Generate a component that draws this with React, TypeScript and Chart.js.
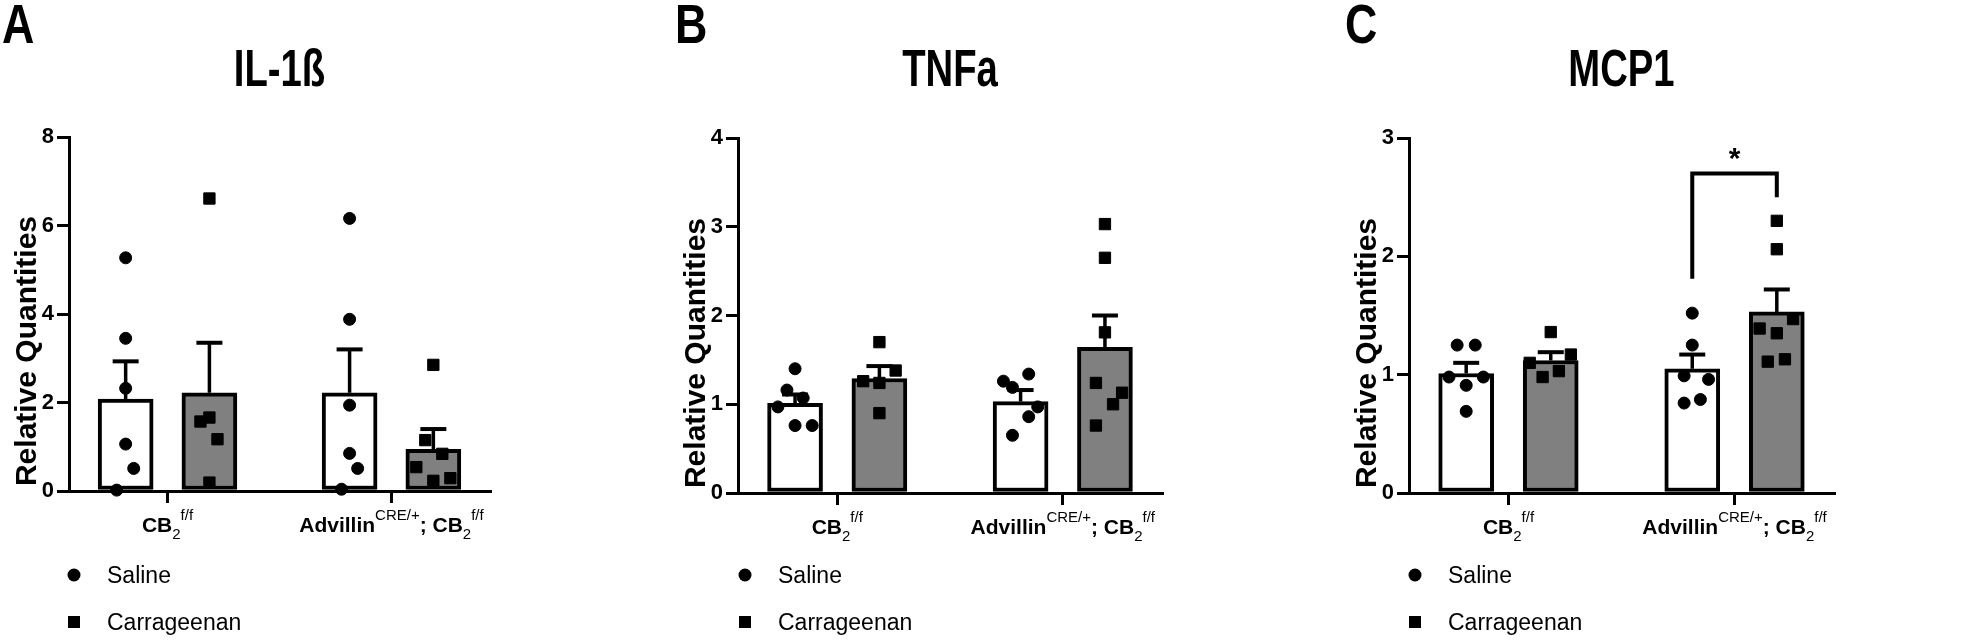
import React, { useEffect, useRef } from 'react';
import { Chart, registerables } from 'chart.js';

Chart.register(...registerables);

const FONT = "'Liberation Sans', Arial, Helvetica, sans-serif";

// ---------- shared categories / legend ----------
const groupPositions = [1, 2];
type Seg = [string, 'b' | 'sub' | 'sup'];
const categoryLabels: Seg[][] = [
  [['CB', 'b'], ['2', 'sub'], ['f/f', 'sup']],
  [['Advillin', 'b'], ['CRE/+', 'sup'], ['; CB', 'b'], ['2', 'sub'], ['f/f', 'sup']],
];
const seriesNames = ['Saline', 'Carrageenan'];
const panelLetters = ['A', 'B', 'C'];
const yAxisTitle = 'Relative Quantities';

// ---------- IL-1ß ----------
const il1bTitle = 'IL-1ß';
const il1bTicks = [0, 2, 4, 6, 8];
const il1bSalineMean = [2.08, 2.22];
const il1bSalineSem = [0.85, 0.98];
const il1bCarrMean = [2.22, 0.94];
const il1bCarrSem = [1.13, 0.46];
const il1bSalinePts = [
  [5.27, 3.45, 2.32, 1.06, 0.51, 0.02],
  [6.16, 3.88, 1.94, 0.85, 0.51, 0.04],
];
const il1bSalineJit = [
  [0, 0, 0, 0, 0.036, -0.04],
  [0, 0, 0, 0, 0.036, -0.036],
];
const il1bCarrPts = [
  [6.61, 1.57, 1.66, 1.17, 0.19],
  [2.85, 1.15, 0.84, 0.54, 0.23, 0.29],
];
const il1bCarrJit = [
  [0, -0.04, 0, 0.036, 0],
  [0, -0.036, 0.04, -0.076, 0, 0.076],
];

// ---------- TNFa ----------
const tnfTitle = 'TNFa';
const tnfTicks = [0, 1, 2, 3, 4];
const tnfSalineMean = [1.01, 1.03];
const tnfSalineSem = [0.1, 0.13];
const tnfCarrMean = [1.29, 1.64];
const tnfCarrSem = [0.14, 0.36];
const tnfSalinePts = [
  [1.4, 1.16, 1.07, 0.97, 0.76, 0.76],
  [1.26, 1.34, 1.19, 0.97, 0.86, 0.65],
];
const tnfSalineJit = [
  [0, -0.036, 0.036, -0.076, 0, 0.076],
  [-0.076, 0.036, -0.036, 0.076, 0.036, -0.036],
];
const tnfCarrPts = [
  [1.7, 1.26, 1.24, 1.38, 0.9],
  [3.03, 2.65, 1.81, 1.24, 1.13, 1.0, 0.76],
];
const tnfCarrJit = [
  [0, -0.072, 0, 0.072, 0],
  [0, 0, 0, -0.04, 0.076, 0.036, -0.04],
];

// ---------- MCP1 ----------
const mcpTitle = 'MCP1';
const mcpTicks = [0, 1, 2, 3];
const mcpSalineMean = [1.01, 1.05];
const mcpSalineSem = [0.09, 0.12];
const mcpCarrMean = [1.12, 1.53];
const mcpCarrSem = [0.07, 0.19];
const mcpSalinePts = [
  [1.25, 1.25, 0.98, 0.98, 0.91, 0.69],
  [1.52, 1.25, 0.99, 0.96, 0.76, 0.79],
];
const mcpSalineJit = [
  [-0.04, 0.04, -0.076, 0.076, 0, 0],
  [0, 0, -0.036, 0.072, -0.036, 0.036],
];
const mcpCarrPts = [
  [1.36, 1.1, 1.17, 0.98, 1.03],
  [2.3, 2.06, 1.47, 1.39, 1.35, 1.11, 1.13],
];
const mcpCarrJit = [
  [0, -0.093, 0.089, -0.036, 0.036],
  [0, 0, 0.072, -0.076, 0, -0.04, 0.036],
];
// significance bracket (group 2, saline vs carrageenan): top, left leg end, right leg end
const mcpBracket = [2.7, 1.81, 2.5];
const mcpStar = '*';

// ---------- panel layout ----------
interface PanelCfg {
  left: number; width: number;
  area: { l: number; t: number; r: number; b: number };
  letterX: number; yTitleX: number; legendX: number;
  letter: string; title: string; ticks: number[];
  sMean: number[]; sSem: number[]; cMean: number[]; cSem: number[];
  sPts: number[][]; sJit: number[][]; cPts: number[][]; cJit: number[][];
  bracket?: number[];
}

const BAR_OFF = 0.187;
const H = 640;

const panels: PanelCfg[] = [
  {
    left: 0, width: 656, area: { l: 69, t: 137, r: 490, b: 491 },
    letterX: 2, yTitleX: 36, legendX: 74, letter: panelLetters[0], title: il1bTitle, ticks: il1bTicks,
    sMean: il1bSalineMean, sSem: il1bSalineSem, cMean: il1bCarrMean, cSem: il1bCarrSem,
    sPts: il1bSalinePts, sJit: il1bSalineJit, cPts: il1bCarrPts, cJit: il1bCarrJit,
  },
  {
    left: 656, width: 656, area: { l: 82, t: 138, r: 506, b: 493 },
    letterX: 19, yTitleX: 49, legendX: 89, letter: panelLetters[1], title: tnfTitle, ticks: tnfTicks,
    sMean: tnfSalineMean, sSem: tnfSalineSem, cMean: tnfCarrMean, cSem: tnfCarrSem,
    sPts: tnfSalinePts, sJit: tnfSalineJit, cPts: tnfCarrPts, cJit: tnfCarrJit,
  },
  {
    left: 1312, width: 660, area: { l: 97, t: 138, r: 522, b: 493 },
    letterX: 33, yTitleX: 64, legendX: 103, letter: panelLetters[2], title: mcpTitle, ticks: mcpTicks,
    sMean: mcpSalineMean, sSem: mcpSalineSem, cMean: mcpCarrMean, cSem: mcpCarrSem,
    sPts: mcpSalinePts, sJit: mcpSalineJit, cPts: mcpCarrPts, cJit: mcpCarrJit,
    bracket: mcpBracket,
  },
];

function drawRich(ctx: CanvasRenderingContext2D, segs: Seg[], cx: number, base: number) {
  const fonts: Record<string, string> = {
    b: `bold 21px ${FONT}`,
    sub: `15px ${FONT}`,
    sup: `15px ${FONT}`,
  };
  const widths = segs.map(([t, k]) => {
    ctx.font = fonts[k];
    return ctx.measureText(t).width;
  });
  const total = widths.reduce((a, b) => a + b, 0);
  let x = cx - total / 2;
  ctx.textAlign = 'left';
  ctx.textBaseline = 'alphabetic';
  segs.forEach(([t, k], i) => {
    ctx.font = fonts[k];
    const dy = k === 'sub' ? 7 : k === 'sup' ? -12 : 0;
    ctx.fillText(t, x, base + dy);
    x += widths[i];
  });
}

function buildChart(canvas: HTMLCanvasElement, p: PanelCfg) {
  const barX: number[] = [];
  const barY: number[] = [];
  const barSem: number[] = [];
  const barColors: string[] = [];
  groupPositions.forEach((g, i) => {
    barX.push(g - BAR_OFF, g + BAR_OFF);
    barY.push(p.sMean[i], p.cMean[i]);
    barSem.push(p.sSem[i], p.cSem[i]);
    barColors.push('#ffffff', '#808080');
  });

  const salineData: { x: number; y: number }[] = [];
  const carrData: { x: number; y: number }[] = [];
  groupPositions.forEach((g, i) => {
    p.sPts[i].forEach((v, j) => salineData.push({ x: g - BAR_OFF + p.sJit[i][j], y: v }));
    p.cPts[i].forEach((v, j) => carrData.push({ x: g + BAR_OFF + p.cJit[i][j], y: v }));
  });

  const yMax = p.ticks[p.ticks.length - 1];

  const decor = {
    id: 'decor',
    afterDatasetDraw(chart: any, args: any) {
      if (args.index !== 0) return;
      const ctx: CanvasRenderingContext2D = chart.ctx;
      const xs = chart.scales.x;
      const ys = chart.scales.y;
      ctx.save();
      ctx.strokeStyle = '#000';
      ctx.lineCap = 'butt';
      barX.forEach((bx, i) => {
        const px = xs.getPixelForValue(bx);
        const y0 = ys.getPixelForValue(barY[i]);
        const y1 = ys.getPixelForValue(barY[i] + barSem[i]);
        ctx.lineWidth = 3.5;
        ctx.beginPath();
        ctx.moveTo(px, y0);
        ctx.lineTo(px, y1);
        ctx.stroke();
        ctx.lineWidth = 4;
        ctx.beginPath();
        ctx.moveTo(px - 13, y1);
        ctx.lineTo(px + 13, y1);
        ctx.stroke();
      });
      ctx.restore();
    },
    afterDraw(chart: any) {
      const ctx: CanvasRenderingContext2D = chart.ctx;
      const xs = chart.scales.x;
      const ys = chart.scales.y;
      const ca = chart.chartArea;
      ctx.save();
      ctx.fillStyle = '#000';
      ctx.strokeStyle = '#000';

      // panel letter
      ctx.save();
      ctx.translate(p.letterX, 43);
      ctx.scale(0.8, 1);
      ctx.font = `bold 56px ${FONT}`;
      ctx.textAlign = 'left';
      ctx.textBaseline = 'alphabetic';
      ctx.fillText(p.letter, 0, 0);
      ctx.restore();

      // title
      ctx.save();
      ctx.translate((ca.left + ca.right) / 2, 86);
      ctx.scale(0.75, 1);
      ctx.font = `bold 51px ${FONT}`;
      ctx.textAlign = 'center';
      ctx.textBaseline = 'alphabetic';
      ctx.fillText(p.title, 0, 0);
      ctx.restore();

      // y title
      ctx.save();
      ctx.translate(p.yTitleX, ca.bottom - 140);
      ctx.rotate(-Math.PI / 2);
      ctx.font = `bold 30px ${FONT}`;
      ctx.textAlign = 'center';
      ctx.textBaseline = 'alphabetic';
      ctx.fillText(yAxisTitle, 0, 0);
      ctx.restore();

      // x category labels
      groupPositions.forEach((g, i) => {
        drawRich(ctx, categoryLabels[i], xs.getPixelForValue(g), ca.bottom + 41);
      });

      // legend
      const rows = [575, 622];
      ctx.beginPath();
      ctx.arc(p.legendX, rows[0], 6.5, 0, Math.PI * 2);
      ctx.fill();
      ctx.fillRect(p.legendX - 6, rows[1] - 6, 12, 12);
      ctx.font = `23px ${FONT}`;
      ctx.textAlign = 'left';
      ctx.textBaseline = 'alphabetic';
      seriesNames.forEach((n, i) => ctx.fillText(n, p.legendX + 33, rows[i] + 8));

      // significance bracket
      if (p.bracket) {
        const xl = xs.getPixelForValue(groupPositions[1] - BAR_OFF);
        const xr = xs.getPixelForValue(groupPositions[1] + BAR_OFF);
        const yt = ys.getPixelForValue(p.bracket[0]);
        const yl = ys.getPixelForValue(p.bracket[1]);
        const yr = ys.getPixelForValue(p.bracket[2]);
        ctx.lineWidth = 4;
        ctx.lineJoin = 'miter';
        ctx.beginPath();
        ctx.moveTo(xl, yl);
        ctx.lineTo(xl, yt);
        ctx.lineTo(xr, yt);
        ctx.lineTo(xr, yr);
        ctx.stroke();
        ctx.font = `bold 30px ${FONT}`;
        ctx.textAlign = 'center';
        ctx.fillText(mcpStar, (xl + xr) / 2, yt - 6);
      }
      ctx.restore();
    },
  };

  return new Chart(canvas, {
    type: 'scatter',
    data: {
      datasets: [
        {
          type: 'bar',
          data: barX.map((x, i) => ({ x, y: barY[i] })),
          backgroundColor: barColors,
          borderColor: '#000',
          borderWidth: 4,
          borderSkipped: false,
          barThickness: 55,
          order: 10,
        } as any,
        {
          type: 'scatter',
          label: seriesNames[0],
          data: salineData,
          pointStyle: 'circle',
          pointRadius: 6,
          pointBorderWidth: 1,
          backgroundColor: '#000',
          borderColor: '#000',
          clip: false,
          order: 0,
        } as any,
        {
          type: 'scatter',
          label: seriesNames[1],
          data: carrData,
          pointStyle: 'rect',
          pointRadius: 8,
          pointBorderWidth: 1,
          backgroundColor: '#000',
          borderColor: '#000',
          clip: false,
          order: 0,
        } as any,
      ],
    },
    options: {
      responsive: false,
      animation: false,
      devicePixelRatio: 1,
      events: [],
      layout: {
        padding: { left: 0, top: p.area.t, right: p.width - p.area.r, bottom: 0 },
      },
      plugins: {
        legend: { display: false },
        tooltip: { enabled: false },
        title: { display: false },
      },
      scales: {
        x: {
          type: 'linear',
          min: 0.56,
          max: 2.44,
          offset: false,
          afterBuildTicks: (s: any) => {
            s.ticks = groupPositions.map((v) => ({ value: v }));
          },
          afterFit: (s: any) => {
            s.height = H - p.area.b;
          },
          ticks: { display: false },
          grid: {
            display: true,
            offset: false,
            drawOnChartArea: false,
            drawTicks: true,
            tickLength: 12,
            lineWidth: 3,
            color: '#000',
          },
          border: { display: true, width: 3, color: '#000' },
        },
        y: {
          type: 'linear',
          min: 0,
          max: yMax,
          afterBuildTicks: (s: any) => {
            s.ticks = p.ticks.map((v) => ({ value: v }));
          },
          afterFit: (s: any) => {
            s.width = p.area.l;
          },
          ticks: {
            color: '#000',
            padding: 3,
            font: { family: FONT, size: 22, weight: 'bold' },
            callback: (v: any) => String(v),
          },
          grid: {
            display: true,
            offset: false,
            drawOnChartArea: false,
            drawTicks: true,
            tickLength: 12,
            lineWidth: 3,
            color: '#000',
          },
          border: { display: true, width: 3, color: '#000' },
        },
      },
    } as any,
    plugins: [decor as any],
  });
}

function Panel({ p }: { p: PanelCfg }) {
  const ref = useRef<HTMLCanvasElement | null>(null);
  useEffect(() => {
    if (!ref.current) return;
    const chart = buildChart(ref.current, p);
    return () => chart.destroy();
  }, [p]);
  return (
    <canvas
      ref={ref}
      width={p.width}
      height={H}
      style={{ position: 'absolute', left: p.left, top: 0, width: p.width, height: H, display: 'block' }}
    />
  );
}

export default function App() {
  return (
    <div style={{ position: 'absolute', left: 0, top: 0, width: 1972, height: H, background: '#fff', overflow: 'hidden' }}>
      {panels.map((p, i) => (
        <Panel key={i} p={p} />
      ))}
    </div>
  );
}
